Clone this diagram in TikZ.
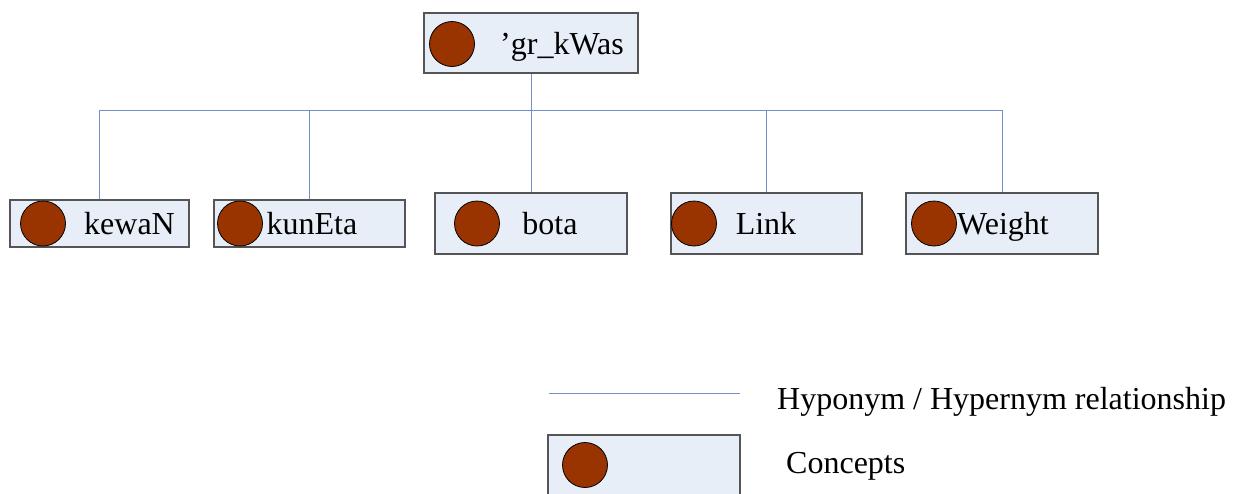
\documentclass[tikz,border=0pt]{standalone}
\usepackage{fontspec}
\setmainfont{Liberation Serif}

\definecolor{boxfill}{HTML}{E8EEF8}
\definecolor{boxline}{HTML}{555555}
\definecolor{dotfill}{HTML}{993300}
\definecolor{relblue}{HTML}{7090CC}

\begin{document}
\begin{tikzpicture}[x=1pt,y=-1pt,
	concept/.style={draw=boxline, fill=boxfill, line width=1.4pt, inner sep=0pt},
	dot/.style={circle, draw=black, fill=dotfill, line width=0.8pt, minimum size=45pt, inner sep=0pt},
	lbl/.style={font=\fontsize{32}{38}\selectfont, inner sep=0pt},
	rel/.style={draw=relblue, line width=1pt}]
	\useasboundingbox (0,0) rectangle (1233,493);
	% root concept
	\node[concept, minimum width=214, minimum height=60] (root) at (531,43) {};
	\node[dot] (rootdot) at (452,44) {};
	\node[lbl, anchor=base] (roottxt) at (562,54) {'gr\_kWas};
	\coordinate (bus) at (531,110);
	\draw[rel] (root.south) -- (bus);
	% child concepts
	\foreach \n/\cx/\w/\h/\dx/\tx in {kewaN/99.5/179/47/43/129.5, kunEta/309.5/191/47/240/312,
		bota/531/192/61/477/550, Link/766.5/191/61/694/766, Weight/1002/192/61/934/1003}
	{
		\node[concept, minimum width=\w, minimum height=\h] (\n) at (\cx,223.5) {};
		\node[dot] (\n dot) at (\dx,223.5) {};
		\node[lbl, anchor=base] (\n txt) at (\tx,234) {\n};
		\draw[rel] (bus) -| (\n.north);
	}
	% legend
	\coordinate (legA) at (549,393); \coordinate (legB) at (740,393);
	\draw[rel] (legA) -- (legB);
	\node[lbl, anchor=base west] (legrel) at (777,409) {Hyponym / Hypernym relationship};
	\node[concept, minimum width=192, minimum height=61] (legbox) at (644,465.5) {};
	\node[dot] (legdot) at (585,465) {};
	\node[lbl, anchor=base west] (legtxt) at (786,473) {Concepts};
\end{tikzpicture}
\end{document}
